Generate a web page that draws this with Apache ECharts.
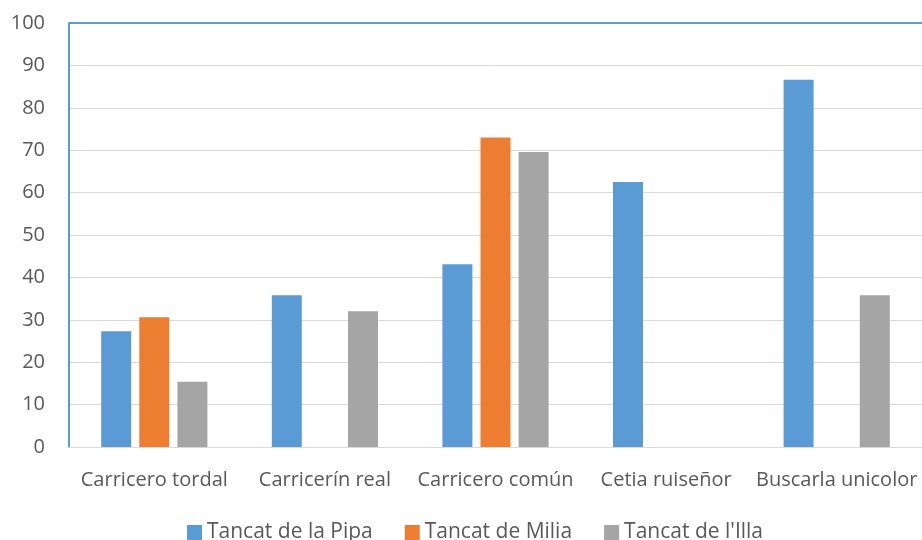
<!DOCTYPE html>
<html>
<head>
<meta charset="utf-8">
<script src="https://cdn.jsdelivr.net/npm/echarts@6/dist/echarts.min.js"></script>
<style>
  html, body { margin: 0; padding: 0; background: #fff; }
  #chart { width: 922px; height: 540px; }
</style>
</head>
<body>
<div id="chart"></div>
<script>
// Species observed at each reserve
const categories = ['Carricero tordal', 'Carricerín real', 'Carricero común', 'Cetia ruiseñor', 'Buscarla unicolor'];
const seriesNames = ['Tancat de la Pipa', 'Tancat de Milia', "Tancat de l'Illa"];
const pipaValues = [27.3, 35.8, 43.1, 62.5, 86.6];
const miliaValues = [30.6, null, 73.0, null, null];
const illaValues = [15.4, 32.0, 69.6, null, 35.8];
const colors = ['#5B9BD5', '#ED7D31', '#A5A5A5'];

const FONT = 'Open Sans';
const FONT_SIZE = 20;
const textColor = '#595959';

const chart = echarts.init(document.getElementById('chart'));

const makeBar = (name, data, color) => ({
  name: name,
  type: 'bar',
  data: data,
  barWidth: 30,
  barGap: '27%',
  itemStyle: { color: color },
  emphasis: { disabled: true }
});

chart.setOption({
  animation: false,
  textStyle: { fontFamily: FONT },
  grid: { left: 69, right: -2, top: 23, bottom: 93, containLabel: false },
  legend: {
    bottom: -3,
    left: 187,
    itemWidth: 15,
    itemHeight: 15,
    itemGap: 32,
    icon: 'rect',
    padding: 0,
    textStyle: { fontFamily: FONT, fontSize: 21, color: textColor },
    data: seriesNames
  },
  xAxis: {
    type: 'category',
    data: categories,
    axisLine: { show: true, lineStyle: { color: '#D9D9D9', width: 1 } },
    axisTick: { show: false },
    axisLabel: { fontFamily: FONT, fontSize: FONT_SIZE, color: textColor, margin: 23, interval: 0 }
  },
  yAxis: {
    type: 'value',
    min: 0,
    max: 100,
    interval: 10,
    axisLine: { show: true, lineStyle: { color: '#5B9BD5', width: 2 } },
    axisTick: { show: false },
    axisLabel: { fontFamily: FONT, fontSize: FONT_SIZE, color: textColor, margin: 24 },
    splitLine: { show: true, lineStyle: { color: '#D9D9D9', width: 1 } }
  },
  series: [
    makeBar(seriesNames[0], pipaValues, colors[0]),
    makeBar(seriesNames[1], miliaValues, colors[1]),
    makeBar(seriesNames[2], illaValues, colors[2]),
    {
      // blue frame line across the top of the plot area
      type: 'line',
      data: [],
      markLine: {
        silent: true,
        symbol: 'none',
        label: { show: false },
        lineStyle: { color: '#5B9BD5', width: 2, type: 'solid' },
        data: [{ yAxis: 100 }]
      }
    }
  ]
});
</script>
</body>
</html>
